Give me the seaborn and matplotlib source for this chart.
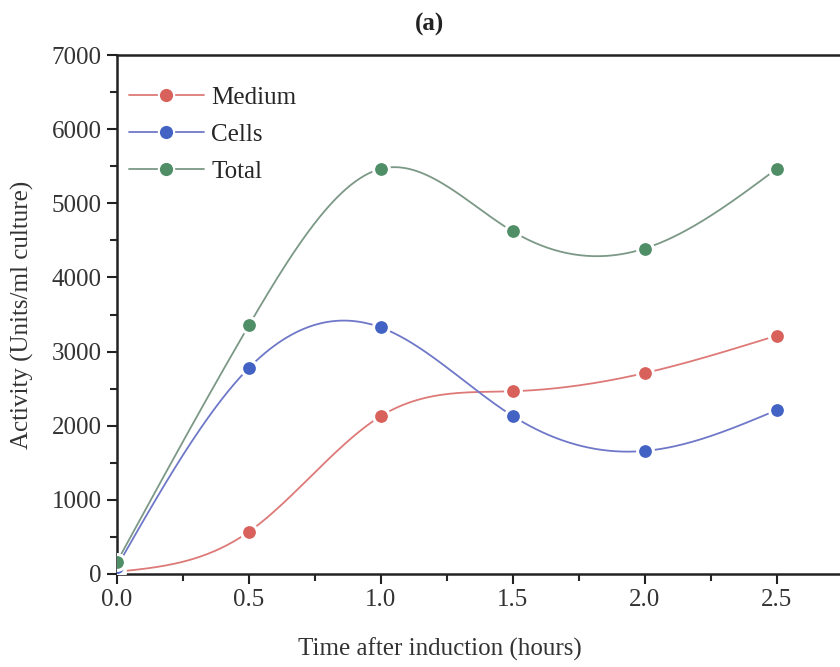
import numpy as np
import pandas as pd
import matplotlib
matplotlib.use("Agg")
from matplotlib import pyplot as plt
import seaborn as sbn

# Activity values (a)
time_h = [0.0, 0.5, 1.0, 1.5, 2.0, 2.5]
medium = [30, 570, 2130, 2465, 2710, 3215]
cells = [100, 2780, 3325, 2130, 1660, 2210]
total = [165, 3355, 5465, 4620, 4390, 5465]

series_names = ['Medium', 'Cells', 'Total']
marker_colors = ['#d8625b', '#4262c4', '#4f8e66']
line_colors = ['#dd7a78', '#6f78c8', '#7c9886']


def natural_spline(x, y, n=300):
    # plain natural cubic spline, like Origin's "Spline" connector
    x = np.asarray(x, float)
    y = np.asarray(y, float)
    k = len(x)
    h = np.diff(x)
    A = np.zeros((k, k))
    b = np.zeros(k)
    A[0, 0] = A[-1, -1] = 1
    for i in range(1, k - 1):
        A[i, i - 1] = h[i - 1]
        A[i, i] = 2 * (h[i - 1] + h[i])
        A[i, i + 1] = h[i]
        b[i] = 6 * ((y[i + 1] - y[i]) / h[i] - (y[i] - y[i - 1]) / h[i - 1])
    M = np.linalg.solve(A, b)
    xs = np.linspace(x[0], x[-1], n)
    idx = np.clip(np.searchsorted(x, xs) - 1, 0, k - 2)
    x0, x1 = x[idx], x[idx + 1]
    hh = x1 - x0
    ys = (M[idx] * (x1 - xs) ** 3 / (6 * hh) + M[idx + 1] * (xs - x0) ** 3 / (6 * hh)
          + (y[idx] / hh - M[idx] * hh / 6) * (x1 - xs)
          + (y[idx + 1] / hh - M[idx + 1] * hh / 6) * (xs - x0))
    return xs, ys


sbn.set_style('ticks')
plt.rcParams['font.family'] = ['Liberation Serif', 'DejaVu Serif']

fig = plt.figure(figsize=(8.4, 6.67), dpi=100)
ax = fig.add_axes([117 / 840, 93 / 667, 723 / 840, 519 / 667])

for name, vals, mc, lc in zip(series_names, [medium, cells, total], marker_colors, line_colors):
    xs, ys = natural_spline(time_h, vals)
    curve = pd.DataFrame({'t': xs, 'v': ys})
    pts = pd.DataFrame({'t': time_h, 'v': vals})
    sbn.lineplot(data=curve, x='t', y='v', ax=ax, color=lc, linewidth=1.3, zorder=2)
    sbn.scatterplot(data=pts, x='t', y='v', ax=ax, color=mc, s=130,
                    edgecolor='white', linewidth=2.2, zorder=3)
    # legend proxy: line with marker in the middle
    ax.plot([], [], color=lc, linewidth=1.3, marker='o', markersize=11,
            markerfacecolor=mc, markeredgecolor='white', markeredgewidth=1.5,
            label=name)

ax.set_xlim(0, 2.74)
ax.set_ylim(0, 7000)
ax.set_xticks([0.0, 0.5, 1.0, 1.5, 2.0, 2.5])
ax.set_xticklabels(['0.0', '0.5', '1.0', '1.5', '2.0', '2.5'])
ax.set_xticks(np.arange(0.25, 2.74, 0.5), minor=True)
ax.set_yticks(range(0, 7001, 1000))
ax.set_yticks(range(500, 7000, 1000), minor=True)

ax.tick_params(axis='both', which='major', direction='out', length=7, width=1.5,
               labelsize=18, pad=4, colors='#222222')
ax.tick_params(axis='both', which='minor', direction='out', length=5, width=1.5)
ax.tick_params(axis='x', labelcolor='#333333')
ax.tick_params(axis='y', labelcolor='#333333')

for side in ['left', 'bottom', 'top']:
    ax.spines[side].set_linewidth(1.8)
    ax.spines[side].set_color('#222222')
ax.spines['right'].set_visible(False)

ax.set_xlabel('Time after induction (hours)', fontsize=18, color='#333333')
ax.xaxis.set_label_coords(323 / 723, -0.123)
ax.set_ylabel('Activity (Units/ml culture)', fontsize=18, color='#333333')
ax.yaxis.set_label_coords(-0.115, 0.5)

fig.text(430 / 840, 1 - 24 / 667, '(a)', fontsize=18, fontweight='bold',
         ha='center', va='center', color='#222222')

ax.legend(loc='upper left', frameon=False, fontsize=18, handlelength=3.0,
          handletextpad=0.3, labelspacing=0.58, borderaxespad=0.3,
          bbox_to_anchor=(-0.008, 0.973))

fig.savefig('out.png', dpi=100)
